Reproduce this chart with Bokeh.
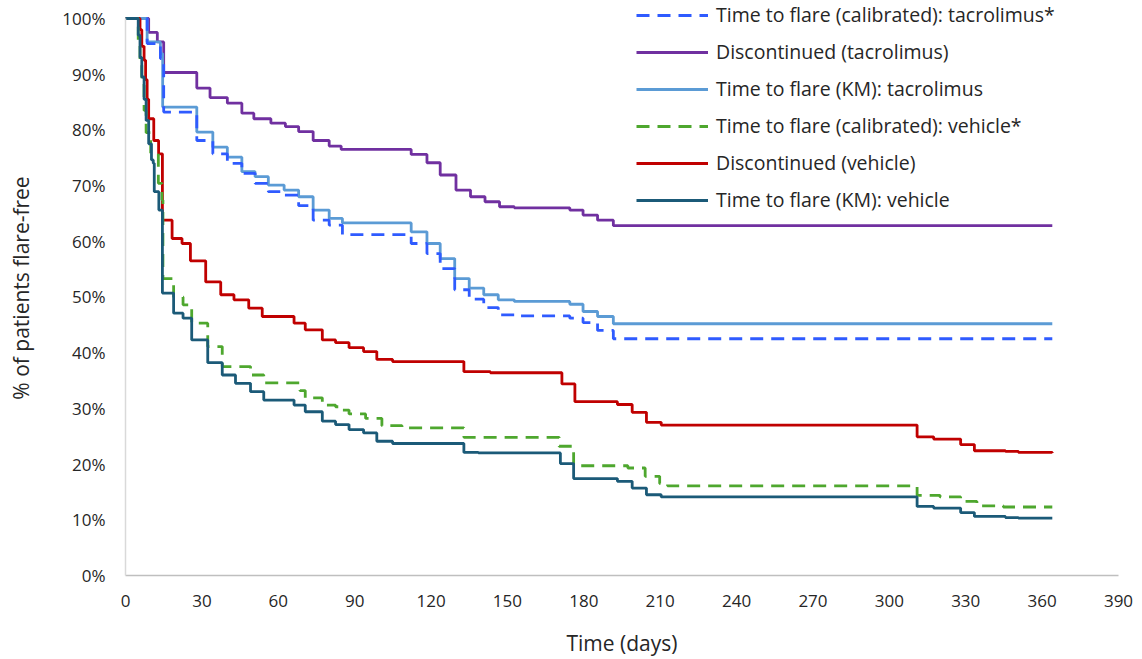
from bokeh.plotting import figure
from bokeh.models import Range1d, FixedTicker, PrintfTickFormatter, Legend, LegendItem
from bokeh.embed import file_html
from bokeh.resources import INLINE

# ---- data (day, % flare-free), step functions ----
cal_tac_days = [0, 8.5, 13.7, 15.0, 28.0, 34.3, 40.0, 45.7, 50.9, 56.1, 62.3, 68.0, 73.7, 80.0, 85.2, 112.2, 118.4, 123.6, 129.3, 135.0, 140.7, 146.4, 152.7, 174.5, 179.7, 185.4, 191.6, 364]
cal_tac_vals = [100, 95.5, 92.8, 83.2, 78.1, 75.7, 74.0, 72.2, 70.4, 68.9, 68.3, 66.4, 63.8, 62.9, 61.2, 59.6, 57.8, 55.1, 51.3, 49.6, 48.1, 46.8, 46.6, 46.2, 45.4, 44.0, 42.5, 42.5]

disc_tac_days = [0, 9.1, 12.5, 15.0, 28.0, 33.2, 40.0, 45.7, 50.4, 57.1, 62.8, 68.0, 73.7, 80.0, 84.7, 112.2, 118.4, 123.6, 129.8, 135.5, 141.2, 146.9, 152.7, 174.5, 179.7, 185.4, 191.6, 364]
disc_tac_vals = [100, 97.5, 95.8, 90.3, 87.5, 85.8, 84.8, 83.0, 82.0, 81.2, 80.6, 79.7, 78.1, 77.1, 76.5, 75.6, 74.1, 71.9, 69.2, 68.0, 67.1, 66.2, 66.0, 65.6, 64.7, 63.8, 62.8, 62.8]

km_tac_days = [0, 8.5, 13.7, 14.6, 28.0, 34.3, 40.0, 45.7, 50.9, 56.1, 62.3, 68.0, 73.7, 80.0, 85.2, 112.2, 118.4, 123.6, 129.3, 135.0, 140.7, 146.4, 152.7, 174.5, 179.7, 185.4, 191.6, 364]
km_tac_vals = [100, 95.8, 93.7, 84.1, 79.6, 76.9, 75.1, 72.5, 71.6, 70.1, 69.2, 68.0, 65.6, 64.1, 63.3, 61.7, 59.6, 56.9, 53.3, 51.6, 50.4, 49.5, 49.2, 48.7, 47.4, 46.5, 45.2, 45.2]

cal_veh_days = [0, 5.0, 5.7, 6.4, 7.3, 8.1, 9.9, 12.9, 14.3, 14.7, 18.9, 22.6, 26.0, 32.3, 38.0, 49.1, 54.3, 68.5, 70.6, 77.3, 82.5, 85.2, 87.8, 94.3, 100.7, 108.6, 132.9, 170.3, 176.0, 197.3, 204.1, 209.8, 212.9, 310.9, 319.9, 328.0, 334.4, 344.8, 364]
cal_veh_vals = [100, 96, 92, 88, 83.5, 79.5, 75.8, 70.4, 67.4, 53.3, 50.0, 48.6, 45.3, 41.1, 37.5, 36.0, 34.6, 33.2, 31.9, 30.6, 30.3, 29.7, 29.0, 28.2, 26.9, 26.5, 24.8, 23.2, 19.7, 19.3, 17.8, 16.5, 16.1, 14.4, 14.1, 13.3, 12.5, 12.3, 12.3]

disc_veh_days = [0, 5.7, 6.4, 7.3, 7.9, 8.5, 9.1, 11.1, 13.0, 14.5, 18.3, 22.2, 25.5, 31.5, 37.4, 42.6, 48.4, 53.7, 66.2, 70.6, 77.3, 82.5, 87.8, 93.5, 98.7, 104.9, 132.9, 143.3, 171.4, 176.5, 193.2, 199.0, 204.6, 210.4, 310.9, 317.4, 328.0, 333.4, 345.6, 350.7, 364]
disc_veh_vals = [100, 98, 95, 92.5, 89, 85.5, 82.0, 78.1, 75.7, 63.8, 60.5, 59.6, 56.5, 52.7, 50.4, 49.5, 48.0, 46.5, 45.3, 44.1, 42.3, 41.8, 40.9, 40.2, 38.8, 38.4, 36.6, 36.4, 34.4, 31.2, 30.7, 29.3, 27.5, 27.0, 24.9, 24.5, 23.5, 22.4, 22.3, 22.1, 22.0]

km_veh_days = [0, 5.0, 5.7, 6.4, 7.3, 8.1, 9.1, 10.2, 10.9, 11.3, 13.1, 14.5, 18.9, 22.6, 26.0, 32.3, 38.0, 43.2, 49.1, 54.3, 66.2, 70.6, 77.3, 82.5, 87.8, 93.5, 98.7, 104.9, 132.9, 138.6, 170.8, 176.0, 193.2, 199.0, 204.6, 210.4, 310.9, 317.4, 328.0, 333.4, 345.6, 350.7, 364]
km_veh_vals = [100, 97, 93, 89.5, 85.5, 81.7, 77.5, 74.6, 74.0, 68.9, 65.6, 50.7, 47.1, 46.2, 42.3, 38.2, 36.0, 34.5, 33.0, 31.5, 30.6, 29.4, 27.7, 27.1, 26.2, 25.6, 24.1, 23.7, 22.1, 22.0, 20.1, 17.4, 16.9, 15.7, 14.5, 14.1, 12.4, 12.1, 11.3, 10.6, 10.4, 10.3, 10.3]

x_ticks = list(range(0, 391, 30))
y_ticks = list(range(0, 101, 10))

FONT = "Open Sans"
TXT = "#262626"

# frame spans the full top so the legend (which sits above 100%) is not clipped
p = figure(width=1142, height=659, output_backend="svg", toolbar_location=None,
           x_range=Range1d(0, 390), y_range=Range1d(0, 103.23),
           min_border_left=125, min_border_right=24, min_border_top=0, min_border_bottom=83)
p.outline_line_color = None
p.xgrid.grid_line_color = None
p.ygrid.grid_line_color = None
p.background_fill_color = "white"
p.border_fill_color = "white"

series = [
    ("Time to flare (calibrated): tacrolimus*", cal_tac_days, cal_tac_vals, "#2F5BFF", "13 8"),
    ("Discontinued (tacrolimus)", disc_tac_days, disc_tac_vals, "#7030A0", "solid"),
    ("Time to flare (KM): tacrolimus", km_tac_days, km_tac_vals, "#5B9BD5", "solid"),
    ("Time to flare (calibrated): vehicle*", cal_veh_days, cal_veh_vals, "#4EA72E", "13 8"),
    ("Discontinued (vehicle)", disc_veh_days, disc_veh_vals, "#C00000", "solid"),
    ("Time to flare (KM): vehicle", km_veh_days, km_veh_vals, "#1B5A78", "solid"),
]

draw_order = [1, 2, 0, 4, 3, 5]
renderers = {}
for i in draw_order:
    name, xs, ys, col, dash = series[i]
    r = p.step(xs, ys, mode="after", line_color=col, line_width=2.8, line_dash=dash)
    renderers[i] = r

items = [LegendItem(label=series[i][0], renderers=[renderers[i]]) for i in range(6)]
legend = Legend(items=items, location=(511, 362), orientation="vertical",
                glyph_width=72, glyph_height=20, label_height=20, label_standoff=8,
                spacing=10, padding=0, margin=0,
                border_line_color=None, background_fill_alpha=0,
                label_text_font=FONT, label_text_font_size="19.5px", label_text_color=TXT)
p.add_layout(legend, "center")

p.xaxis.ticker = FixedTicker(ticks=x_ticks)
p.yaxis.ticker = FixedTicker(ticks=y_ticks)
p.yaxis.formatter = PrintfTickFormatter(format="%d%%")
p.yaxis.bounds = (0, 100)
for ax in (p.xaxis, p.yaxis):
    ax.major_tick_line_color = None
    ax.minor_tick_line_color = None
    ax.major_tick_out = 0
    ax.major_tick_in = 0
    ax.major_label_text_font = FONT
    ax.major_label_text_font_size = "17px"
    ax.major_label_text_color = TXT
    ax.axis_label_text_font = FONT
    ax.axis_label_text_font_size = "21px"
    ax.axis_label_text_font_style = "normal"
    ax.axis_label_text_color = TXT
    ax.axis_line_width = 1.5
p.xaxis.axis_line_color = "#BFBFBF"
p.yaxis.axis_line_color = "#D9D9D9"
p.xaxis.axis_label = "Time (days)"
p.yaxis.axis_label = "% of patients flare-free"
p.xaxis.major_label_standoff = 19
p.yaxis.major_label_standoff = 20
p.xaxis.axis_label_standoff = 19
p.yaxis.axis_label_standoff = 24

open("out.html", "w").write(file_html(p, INLINE))
